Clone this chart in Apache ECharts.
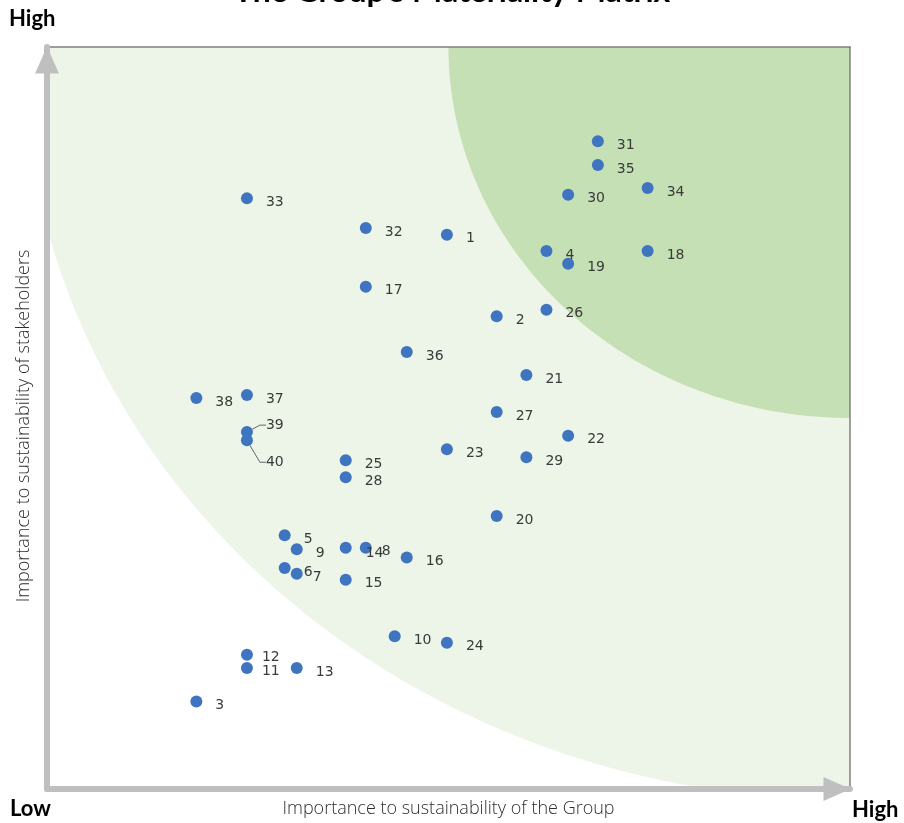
<!DOCTYPE html>
<html>
<head>
<meta charset="utf-8">
<title>The Group's Materiality Matrix</title>
<script src="https://cdn.jsdelivr.net/npm/echarts@6/dist/echarts.min.js"></script>
<style>
  html, body { margin: 0; padding: 0; background: #ffffff; }
  #chart { width: 904px; height: 823px; }
</style>
</head>
<body>
<div id="chart"></div>
<script>
// Material topics: id, importance to the Group (x) and to stakeholders (y), 0-10 scale
var topicIds = ['31','35','34','30','33','32','1','4','18','19','17','26','2','36','21','38','37','27',
                '39','40','22','23','29','25','28','20','5','9','14','8','16','6','7','15','10','24','12','11','13','3'];
var groupScores = [6.86, 6.86, 7.48, 6.49, 2.49, 3.97, 4.98, 6.22, 7.48, 6.49, 3.97, 6.22, 5.60, 4.48, 5.97, 1.86, 2.49, 5.60,
                   2.49, 2.49, 6.49, 4.98, 5.97, 3.72, 3.72, 5.60, 2.96, 3.11, 3.72, 3.97, 4.48, 2.96, 3.11, 3.72, 4.33, 4.98, 2.49, 2.49, 3.11, 1.86];
var stakeholderScores = [8.73, 8.41, 8.10, 8.01, 7.96, 7.56, 7.47, 7.25, 7.25, 7.08, 6.77, 6.46, 6.37, 5.89, 5.58, 5.27, 5.31, 5.08,
                         4.81, 4.70, 4.76, 4.58, 4.47, 4.43, 4.20, 3.68, 3.42, 3.23, 3.25, 3.25, 3.12, 2.98, 2.90, 2.82, 2.06, 1.97, 1.81, 1.63, 1.63, 1.18];

// Materiality zones: quarter ellipses anchored at the high/high corner [radiusX, radiusY]
var zoneCorner = [10, 10];
var zoneRadii = [[10.3, 10.15], [5.0, 5.0]];
var zoneColors = ['#ecf5e7', '#c5e0b4'];

// Label placement: common downward shift plus nudges (pixels) for crowded points
var labelDrop = 4;
var labelNudges = { '7': [-3, 0], '12': [-4, -1], '11': [-4, -1], '14': [1, 2], '8': [-3, 0], '39': [0, -11], '40': [0, 18] };
var leaderLabels = { '39': true, '40': true };

var points = topicIds.map(function (id, i) { return [groupScores[i], stakeholderScores[i], id]; });
var zones = zoneRadii.map(function (r) { return [zoneCorner[0], zoneCorner[1], r[0], r[1]]; });

var chart = echarts.init(document.getElementById('chart'), null, { renderer: 'canvas' });

function clamp(v) { return Math.max(0, Math.min(10, v)); }

var hiddenAxisParts = {
  axisTick: { show: false }, axisLabel: { show: false }, splitLine: { show: false }
};

var option = {
  animation: false,
  backgroundColor: '#ffffff',
  grid: { left: 47, right: 54, top: 47, bottom: 34, containLabel: false, outerBoundsMode: 'none' },
  xAxis: [
    Object.assign({
      type: 'value', min: 0, max: 10, position: 'bottom', z: 5,
      axisLine: { show: true, onZero: false, symbol: ['none', 'triangle'], symbolSize: [24, 27], symbolOffset: [0, -13],
                  lineStyle: { color: '#bfbfbf', width: 6 } },
      name: 'Importance to sustainability of the Group', nameLocation: 'middle', nameGap: 11,
      nameTextStyle: { fontFamily: 'Open Sans', fontWeight: 300, fontSize: 18, color: '#2e2e2e' }
    }, hiddenAxisParts),
    Object.assign({
      type: 'value', min: 0, max: 10, position: 'top', z: 4,
      axisLine: { show: true, onZero: false, lineStyle: { color: '#7f7f7f', width: 1.5 } }
    }, hiddenAxisParts)
  ],
  yAxis: [
    Object.assign({
      type: 'value', min: 0, max: 10, position: 'left', z: 5,
      axisLine: { show: true, onZero: false, symbol: ['none', 'triangle'], symbolSize: [24, 27], symbolOffset: [0, -13],
                  lineStyle: { color: '#bfbfbf', width: 6 } },
      name: 'Importance to sustainability of stakeholders', nameLocation: 'middle', nameGap: 14, nameRotate: 90,
      nameTextStyle: { fontFamily: 'Open Sans', fontWeight: 300, fontSize: 18, color: '#2e2e2e', padding: [0, 16, 0, 0] }
    }, hiddenAxisParts),
    Object.assign({
      type: 'value', min: 0, max: 10, position: 'right', z: 4,
      axisLine: { show: true, onZero: false, lineStyle: { color: '#7f7f7f', width: 1.5 } }
    }, hiddenAxisParts)
  ],
  graphic: [
    { type: 'text', left: 'center', top: -24, z: 10,
      style: { text: "The Group's Materiality Matrix", fontFamily: 'Lato', fontWeight: 'bold', fontSize: 32, fill: '#000' } },
    { type: 'text', x: 9, y: 19, z: 10,
      style: { text: 'High', fontFamily: 'Lato', fontWeight: 'bold', fontSize: 22, fill: '#000', verticalAlign: 'middle' } },
    { type: 'text', x: 10, y: 809, z: 10,
      style: { text: 'Low', fontFamily: 'Lato', fontWeight: 'bold', fontSize: 22, fill: '#000', verticalAlign: 'middle' } },
    { type: 'text', x: 852, y: 810, z: 10,
      style: { text: 'High', fontFamily: 'Lato', fontWeight: 'bold', fontSize: 22, fill: '#000', verticalAlign: 'middle' } }
  ],
  series: [
    {
      type: 'custom',
      silent: true,
      z: 1,
      xAxisIndex: 0,
      yAxisIndex: 0,
      data: zones,
      renderItem: function (params, api) {
        var cx = api.value(0), cy = api.value(1), rx = api.value(2), ry = api.value(3);
        var pts = [api.coord([cx, cy])];
        for (var k = 0; k <= 90; k++) {
          var t = k * Math.PI / 180;
          pts.push(api.coord([clamp(cx - rx * Math.cos(t)), clamp(cy - ry * Math.sin(t))]));
        }
        return { type: 'polygon', shape: { points: pts }, style: { fill: zoneColors[params.dataIndex] } };
      }
    },
    {
      type: 'scatter',
      z: 10,
      xAxisIndex: 0,
      yAxisIndex: 0,
      symbolSize: 12,
      itemStyle: { color: '#3f74c0', opacity: 1 },
      data: points,
      label: {
        show: true, position: 'right', distance: 13,
        formatter: function (p) { return p.value[2]; },
        fontFamily: 'DejaVu Sans', fontSize: 14, color: '#3a3a3a'
      },
      labelLine: { show: false },
      labelLayout: function (p) {
        var n = labelNudges[topicIds[p.dataIndex]] || [0, 0];
        return { dx: n[0], dy: labelDrop + n[1] };
      }
    }
  ]
};

// Leader lines only for the labels pulled away from their overlapping points
option.series[1].data = points.map(function (pt) {
  if (leaderLabels[pt[2]]) {
    return { value: pt, labelLine: { show: true, length2: 6, lineStyle: { color: '#666', width: 1 } } };
  }
  return pt;
});

chart.setOption(option);
</script>
</body>
</html>
